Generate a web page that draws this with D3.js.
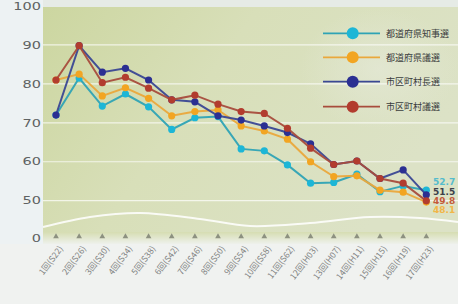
<!DOCTYPE html>
<html><head><meta charset="utf-8">
<script src="https://cdn.jsdelivr.net/npm/d3@7"></script>
<style>
html,body{margin:0;padding:0;background:#eef2f2;}
svg{display:block;}
</style></head>
<body>
<script>
const categories = ["1回(S22)","2回(S26)","3回(S30)","4回(S34)","5回(S38)","6回(S42)","7回(S46)","8回(S50)","9回(S54)","10回(S58)","11回(S62)","12回(H03)","13回(H07)","14回(H11)","15回(H15)","16回(H19)","17回(H23)"];
const governor     = [72.0, 81.5, 74.3, 77.4, 74.1, 68.3, 71.3, 71.6, 63.3, 62.8, 59.2, 54.5, 54.7, 56.8, 52.3, 53.8, 52.7];
const prefAssembly = [81.0, 82.5, 76.9, 79.0, 76.3, 71.8, 72.9, 73.3, 69.2, 67.9, 65.8, 60.0, 56.2, 56.4, 52.7, 52.2, 48.1];
const mayor        = [72.0, 89.8, 83.0, 84.0, 81.0, 75.9, 75.4, 71.8, 70.7, 69.2, 67.5, 64.6, 59.3, 60.2, 55.7, 57.9, 51.5];
const cityAssembly = [81.0, 89.8, 80.3, 81.7, 78.9, 75.9, 77.1, 74.8, 72.9, 72.4, 68.6, 63.5, 59.3, 60.2, 55.7, 54.5, 49.8];
const seriesNames  = ["都道府県知事選","都道府県議選","市区町村長選","市区町村議選"];
const endLabels    = ["52.7","51.5","49.8","48.1"];
const yTicks       = [0, 50, 60, 70, 80, 90, 100];
const gridValues   = [50, 60, 70, 80, 90];

const W = 458, H = 304;
const svg = d3.select("body").append("svg").attr("width", W).attr("height", H);
const defs = svg.append("defs");

const g1 = defs.append("linearGradient").attr("id","plotbg").attr("x1","0").attr("x2","1").attr("y1","0").attr("y2","0.4");
g1.append("stop").attr("offset","0").attr("stop-color","#ccd6a0");
g1.append("stop").attr("offset","0.45").attr("stop-color","#d8dfb9");
g1.append("stop").attr("offset","1").attr("stop-color","#dce2c6");

const g2 = defs.append("linearGradient").attr("id","bottomfade").attr("x1","0").attr("x2","0").attr("y1","0").attr("y2","1");
g2.append("stop").attr("offset","0").attr("stop-color","#d6ddb2");
g2.append("stop").attr("offset","1").attr("stop-color","#eef1ec");

const g3 = defs.append("radialGradient").attr("id","legbg");
g3.append("stop").attr("offset","0").attr("stop-color","#e6eadb").attr("stop-opacity",0.6);
g3.append("stop").attr("offset","1").attr("stop-color","#e6eadb").attr("stop-opacity",0);

// backgrounds
svg.append("rect").attr("x",0).attr("y",0).attr("width",W).attr("height",H).attr("fill","#edf2f3");
svg.append("rect").attr("x",43).attr("y",0).attr("width",W-43).attr("height",8).attr("fill","#e6ebe6");
svg.append("rect").attr("x",43).attr("y",7).attr("width",W-43).attr("height",233).attr("fill","url(#plotbg)");
svg.append("rect").attr("x",43).attr("y",232).attr("width",W-43).attr("height",12).attr("fill","url(#bottomfade)");
svg.append("rect").attr("x",0).attr("y",244).attr("width",W).attr("height",H-244).attr("fill","#f0f2f0");
// legend soft panel
svg.append("rect").attr("x",300).attr("y",8).attr("width",W-300).attr("height",122).attr("fill","url(#legbg)");

const x = d3.scalePoint().domain(categories).range([56, 426.3]);
const y = d3.scaleLinear().domain([0, 50, 100]).range([238, 200.7, 6]);

// gridlines
svg.append("g").selectAll("line").data(gridValues).join("line")
  .attr("x1",43).attr("x2",W).attr("y1",d=>y(d)).attr("y2",d=>y(d))
  .attr("stroke","#ffffff").attr("stroke-opacity",0.7).attr("stroke-width",1.2);

// decorative wave
const wave = [[43,227],[90,217],[140,213],[200,219],[250,226],[310,223],[370,217],[420,218],[458,222]];
svg.append("path").attr("d", d3.line().curve(d3.curveCatmullRom)(wave))
  .attr("fill","none").attr("stroke","#ffffff").attr("stroke-opacity",0.85).attr("stroke-width",2);

// y axis
const yAxis = svg.append("g").attr("transform","translate(41,0)")
  .call(d3.axisLeft(y).tickValues(yTicks).tickSize(0).tickPadding(0).tickFormat(d3.format("d")));
yAxis.select(".domain").remove();
yAxis.selectAll("text").attr("font-family","DejaVu Sans").attr("font-size",10)
  .attr("fill","#5e6262").attr("transform","scale(1.45,1)");

// x ticks (triangles)
svg.append("g").selectAll("path").data(categories).join("path")
  .attr("transform", d=>`translate(${x(d)},236.5)`)
  .attr("d", d3.symbol().type(d3.symbolTriangle).size(14))
  .attr("fill","#8d9180");

// x labels
svg.append("g").selectAll("text").data(categories).join("text")
  .attr("transform", d=>`translate(${x(d)+5},247) rotate(-53)`)
  .attr("text-anchor","end").attr("dy","0.35em")
  .attr("font-family","'Noto Sans CJK JP', 'DejaVu Sans'")
  .attr("font-size",8.5).attr("fill","#808282")
  .text(d=>d);

const series = [
  {name: seriesNames[0], values: governor,     line:"#2fa3b5", dot:"#1db6d6"},
  {name: seriesNames[1], values: prefAssembly, line:"#eaa83c", dot:"#f2a522"},
  {name: seriesNames[2], values: mayor,        line:"#3a4794", dot:"#2b2f92"},
  {name: seriesNames[3], values: cityAssembly, line:"#a84c3c", dot:"#b23c2e"}
];

const line = d3.line().x((d,i)=>x(categories[i])).y(d=>y(d));
series.forEach(s=>{
  const gS = svg.append("g");
  gS.append("path").attr("d", line(s.values)).attr("fill","none")
    .attr("stroke", s.line).attr("stroke-width",2).attr("stroke-opacity",0.95);
  gS.selectAll("circle").data(s.values).join("circle")
    .attr("cx",(d,i)=>x(categories[i])).attr("cy",d=>y(d)).attr("r",3.6)
    .attr("fill", s.dot);
});

// end labels
const labelColors = ["#55bccd","#3c3f4a","#c45a3a","#f2b648"];
const labelY = [182, 191.5, 201, 210];
svg.append("g").selectAll("text").data(endLabels).join("text")
  .attr("x",433).attr("y",(d,i)=>labelY[i]).attr("dy","0.35em")
  .attr("font-family","DejaVu Sans").attr("font-size",9).attr("font-weight","bold")
  .attr("fill",(d,i)=>labelColors[i])
  .text(d=>d);

// legend
const legY = [33.3, 57.3, 81.7, 106.7];
const leg = svg.append("g");
series.forEach((s,i)=>{
  leg.append("line").attr("x1",323).attr("x2",380).attr("y1",legY[i]).attr("y2",legY[i])
    .attr("stroke",s.line).attr("stroke-width",1.8);
  leg.append("circle").attr("cx",352.7).attr("cy",legY[i]).attr("r",6).attr("fill",s.dot);
  leg.append("text").attr("x",386).attr("y",legY[i]).attr("dy","0.36em")
    .attr("font-family","'Noto Sans CJK JP'").attr("font-size",9).attr("fill","#3a3d3d")
    .text(s.name);
});
</script>
</body></html>
